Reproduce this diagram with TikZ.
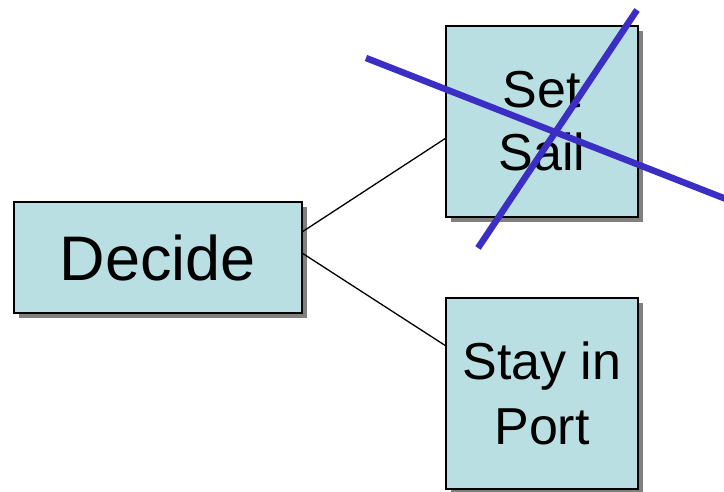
\documentclass[tikz,border=0pt]{standalone}
\usepackage{fontspec}
\setmainfont{Liberation Sans}
\usetikzlibrary{shadows}
\definecolor{boxfill}{RGB}{186,223,227}
\definecolor{crossblue}{RGB}{58,46,196}
\begin{document}
\begin{tikzpicture}[x=1pt,y=-1pt,
  box/.style={draw=black, line width=1.8pt, fill=boxfill, inner sep=0pt, outer sep=0pt,
    align=center, drop shadow={shadow xshift=5pt, shadow yshift=-5pt, fill=black!50, opacity=1}},
  link/.style={draw=black, line width=1.3pt},
  cross/.style={draw=crossblue, line width=6.5pt}]
\useasboundingbox (0,0) rectangle (724,492);
\node[box, minimum width=288pt, minimum height=111pt, font=\fontsize{63}{70}\selectfont] (decide) at (158,257.5) {Decide};
\node[box, minimum width=192pt, minimum height=191pt, font=\fontsize{52}{63}\selectfont] (sail) at (542,121.5) {Set\\Sail};
\node[box, minimum width=192pt, minimum height=191pt, font=\fontsize{52}{65}\selectfont] (port) at (542,393.5) {Stay in\\Port};
\draw[link] ([yshift=25.5pt]decide.east) -- ([yshift=-16.5pt]sail.west);
\draw[link] ([yshift=4.5pt]decide.east) -- ([yshift=47.5pt]port.west);
\coordinate (c1a) at (366,58);
\coordinate (c1b) at (726,199);
\coordinate (c2a) at (478,248);
\coordinate (c2b) at (637,10);
\draw[cross] (c1a) -- (c1b);
\draw[cross] (c2a) -- (c2b);
\end{tikzpicture}
\end{document}
